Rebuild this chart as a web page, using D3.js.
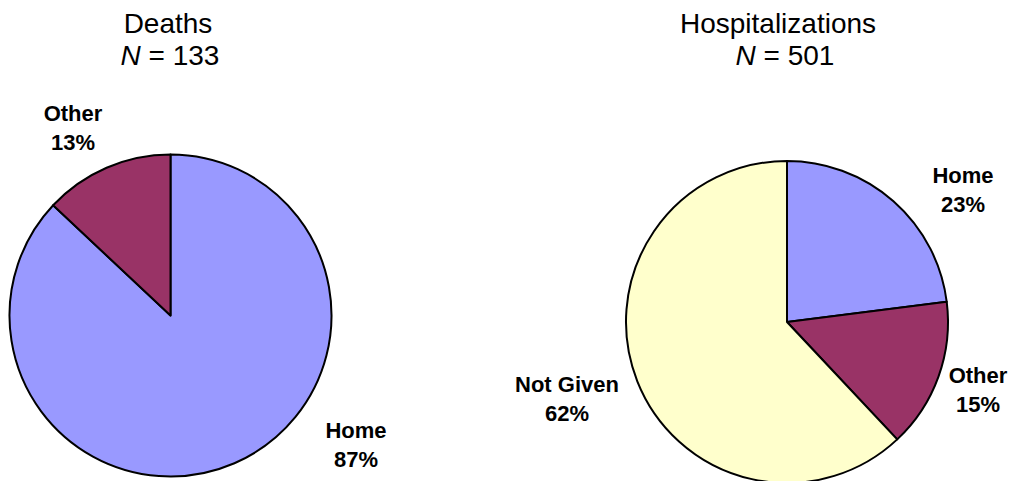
<!DOCTYPE html>
<html>
<head>
<meta charset="utf-8">
<script src="https://cdn.jsdelivr.net/npm/d3@7"></script>
<style>
  html, body { margin: 0; padding: 0; background: #fff; }
  svg { display: block; }
  text { font-family: Arial, "Liberation Sans", Helvetica, sans-serif; fill: #000; }
</style>
</head>
<body>
<svg id="chart" width="1014" height="481"></svg>
<script>
// Place of death / hospitalization, shares by category
const deathCategories = ["Home", "Other"];
const deathValues = [87, 13];
const deathTotal = 133;

const hospCategories = ["Home", "Other", "Not Given"];
const hospValues = [23, 15, 62];
const hospTotal = 501;

const chartTitles = ["Deaths", "Hospitalizations"];

// Shared colours per category
const colour = d3.scaleOrdinal()
  .domain(["Home", "Other", "Not Given"])
  .range(["#9999FF", "#993366", "#FFFFCC"]);

// Layout of each pie: centre, radius, title placement and label anchors
const layouts = [
  {
    cx: 170.5, cy: 315.5, r: 161,
    titleX: 168, nX: 170,
    labels: { "Home": [356, 438], "Other": [73, 121] }
  },
  {
    cx: 787, cy: 322, r: 161,
    titleX: 778, nX: 785,
    labels: { "Home": [963, 183], "Other": [978, 383], "Not Given": [567, 392] }
  }
];

const svg = d3.select("#chart");

const pie = d3.pie().sort(null).value(d => d.value);

function drawPie(categories, values, total, title, lay) {
  const data = categories.map((c, i) => ({ cat: c, value: values[i] }));
  const arcs = pie(data);
  const arc = d3.arc().innerRadius(0).outerRadius(lay.r);

  const g = svg.append("g").attr("transform", `translate(${lay.cx},${lay.cy})`);
  g.selectAll("path")
    .data(arcs)
    .join("path")
    .attr("d", arc)
    .attr("fill", d => colour(d.data.cat))
    .attr("stroke", "#000")
    .attr("stroke-width", 2)
    .attr("stroke-linejoin", "round");

  // Title and sample size
  svg.append("text")
    .attr("x", lay.titleX).attr("y", 33)
    .attr("text-anchor", "middle")
    .style("font-size", "28px")
    .text(title);

  const n = svg.append("text")
    .attr("x", lay.nX).attr("y", 65)
    .attr("text-anchor", "middle")
    .style("font-size", "28px");
  n.append("tspan").style("font-style", "italic").text("N");
  n.append("tspan").text(" = " + total);

  // Category labels with percentages
  arcs.forEach(a => {
    const pos = lay.labels[a.data.cat];
    const t = svg.append("text")
      .attr("text-anchor", "middle")
      .style("font-size", "22px")
      .style("font-weight", "bold");
    t.append("tspan").attr("x", pos[0]).attr("y", pos[1]).text(a.data.cat);
    t.append("tspan").attr("x", pos[0]).attr("y", pos[1] + 29).text(a.data.value + "%");
  });
}

drawPie(deathCategories, deathValues, deathTotal, chartTitles[0], layouts[0]);
drawPie(hospCategories, hospValues, hospTotal, chartTitles[1], layouts[1]);
</script>
</body>
</html>
